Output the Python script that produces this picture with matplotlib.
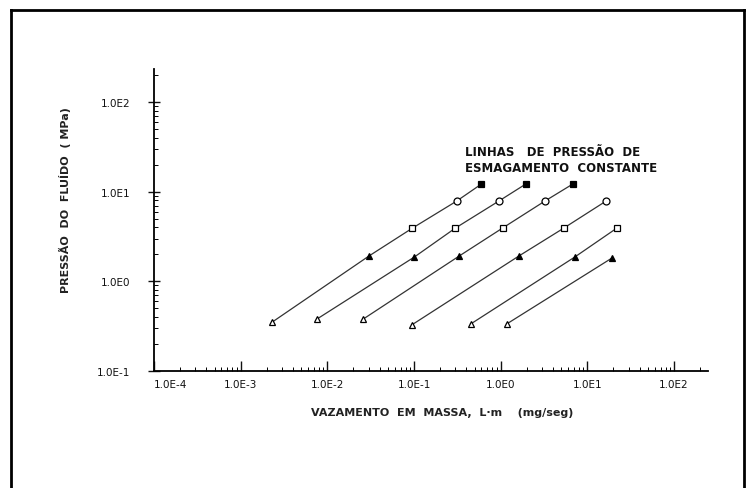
import matplotlib.pyplot as plt
import numpy as np
from matplotlib.ticker import LogLocator, NullFormatter, FixedLocator

plt.rcParams['font.family'] = ['DejaVu Sans']

# dados (vazamento mg/seg, pressão MPa) - uma linha por pressão de esmagamento
linha1_x = [2.3e-3, 0.030, 0.096, 0.31, 0.60]
linha1_y = [0.35, 1.91, 3.93, 7.86, 12.2]
linha2_x = [7.6e-3, 0.101, 0.30, 0.95, 1.95]
linha2_y = [0.38, 1.87, 3.93, 7.86, 12.2]
linha3_x = [0.026, 0.33, 1.05, 3.23, 6.8]
linha3_y = [0.38, 1.91, 3.93, 7.86, 12.2]
linha4_x = [0.094, 1.61, 5.35, 16.4]
linha4_y = [0.326, 1.91, 3.93, 7.86]
linha5_x = [0.45, 7.17, 21.9]
linha5_y = [0.334, 1.87, 3.93]
linha6_x = [1.17, 19.2]
linha6_y = [0.334, 1.82]

# símbolos por nível de pressão (de baixo para cima)
marcadores = [('^', 'white'), ('^', 'black'), ('s', 'white'), ('o', 'white'), ('s', 'black')]

xticks = [1e-4, 1e-3, 1e-2, 1e-1, 1e0, 1e1, 1e2]
xlabels = ['1.0E-4', '1.0E-3', '1.0E-2', '1.0E-1', '1.0E0', '1.0E1', '1.0E2']
yticks = [1e-1, 1e0, 1e1, 1e2]
ylabels = ['1.0E-1', '1.0E0', '1.0E1', '1.0E2']

fig = plt.figure(figsize=(7.53, 4.89), dpi=100)
ax = fig.add_axes([0.2045, 0.2393, 0.7355, 0.6176])

linhas = [(linha1_x, linha1_y), (linha2_x, linha2_y), (linha3_x, linha3_y),
          (linha4_x, linha4_y), (linha5_x, linha5_y), (linha6_x, linha6_y)]
for xs, ys in linhas:
    ax.plot(xs, ys, color='#333333', lw=0.9, zorder=2)
    for i, (xv, yv) in enumerate(zip(xs, ys)):
        m, fc = marcadores[i]
        ax.plot(xv, yv, marker=m, ms=5, mfc=fc, mec='black', mew=0.9,
                ls='none', zorder=3)

ax.set_xscale('log')
ax.set_yscale('log')
ax.set_xlim(1e-4, 10 ** 2.39)
ax.set_ylim(1e-1, 10 ** 2.37)

for s in ['top', 'right']:
    ax.spines[s].set_visible(False)
ax.spines['left'].set_linewidth(1.3)
ax.spines['bottom'].set_linewidth(1.3)

ax.xaxis.set_major_locator(FixedLocator(xticks))
ax.set_xticklabels(xlabels)
ax.yaxis.set_major_locator(FixedLocator(yticks))
ax.set_yticklabels(ylabels)
ax.xaxis.set_minor_locator(LogLocator(base=10, subs=np.arange(2, 10)))
ax.yaxis.set_minor_locator(LogLocator(base=10, subs=np.arange(2, 10)))
ax.xaxis.set_minor_formatter(NullFormatter())
ax.yaxis.set_minor_formatter(NullFormatter())

ax.tick_params(axis='x', which='major', direction='in', length=7, width=1,
               pad=6, labelsize=7.5, colors='#111111')
ax.tick_params(axis='x', which='minor', direction='in', length=3, width=0.7)
ax.tick_params(axis='y', which='major', direction='inout', length=8, width=1,
               pad=13, labelsize=7.5, colors='#111111')
ax.tick_params(axis='y', which='minor', direction='in', length=3, width=0.7)

# primeiro rótulo deslocado para a direita, como no original
ax.get_xticklabels()[0].set_horizontalalignment('left')

ax.set_xlabel('VAZAMENTO  EM  MASSA,  L·m    (mg/seg)', fontsize=8,
              fontweight='bold', color='#222222')
ax.xaxis.set_label_coords(0.52, -0.12)
ax.set_ylabel('PRESSÃO  DO  FLUÍDO  ( MPa)', fontsize=8,
              fontweight='bold', color='#222222')
ax.yaxis.set_label_coords(-0.15, 0.57)

ax.text(0.39, 23, 'LINHAS   DE  PRESSÃO  DE\nESMAGAMENTO  CONSTANTE',
        fontsize=8.5, fontweight='bold', color='#111111', ha='left',
        va='center', linespacing=1.25)

# moldura da figura
fig.add_artist(plt.Line2D([0.014, 0.988], [0.977, 0.977], color='black', lw=2,
                          transform=fig.transFigure))
fig.add_artist(plt.Line2D([0.014, 0.014], [0.0, 0.977], color='black', lw=2,
                          transform=fig.transFigure))
fig.add_artist(plt.Line2D([0.988, 0.988], [0.0, 0.977], color='black', lw=2,
                          transform=fig.transFigure))

fig.savefig('out.png', dpi=100)
